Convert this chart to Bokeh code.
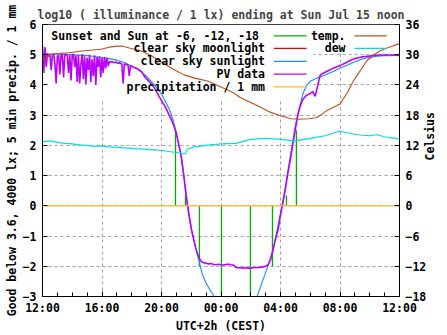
import math
from bokeh.plotting import figure
from bokeh.models import Range1d, LinearAxis, FixedTicker, BoxAnnotation, Label
from bokeh.embed import file_html
from bokeh.resources import INLINE

FONT = "DejaVu Sans Mono"
FS = "11.5px"

# ---------------- data ----------------
TITLE = "log10 ( illuminance / 1 lx) ending at Sun Jul 15 noon"
Y_LABEL = "Good below 3.6, 4000 lx; 5 min precip. / 1 mm"
X_LABEL = "UTC+2h (CEST)"
C_LABEL = "Celsius"

x_ticks = [0, 4, 8, 12, 16, 20, 24]
x_tick_labels = ["12:00", "16:00", "20:00", "00:00", "04:00", "08:00", "12:00"]
x_minor_ticks = list(range(25))
y_ticks = [-3, -2, -1, 0, 1, 2, 3, 4, 5, 6]
c_ticks = [-18, -12, -6, 0, 6, 12, 18, 24, 30, 36]

# PV data, log10 lux (hours after 12:00)
# every 5 minutes from 12:00 to 18:00
pv_fine_step_h = 1.0 / 12.0
pv_fine = [5.30, 4.40, 5.25, 4.60, 5.05, 4.95, 5.00, 4.50, 4.98, 5.02, 4.70, 4.05,
           4.95, 4.98, 4.35, 5.00, 5.02, 4.25, 4.98, 5.03, 4.96, 4.40, 5.00, 4.15,
           4.97, 5.02, 4.60, 4.98, 4.10, 5.00, 4.05, 4.70, 5.02, 4.20, 4.95, 4.02,
           4.90, 4.50, 5.00, 4.10, 4.85, 4.30, 4.98, 4.00, 4.92, 4.60, 4.95, 4.25,
           4.90, 4.40, 4.92, 4.55, 4.90, 4.62, 4.78, 4.76, 4.77, 4.75, 4.74, 4.76,
           4.73, 4.72, 4.74, 4.71, 4.70, 4.05, 4.69, 4.68, 4.67, 4.66, 4.30, 4.64,
           4.62]
# every 10 minutes from 18:10 to 12:00
pv_coarse_start_h = 6.0 + 1.0 / 6.0
pv_coarse_step_h = 1.0 / 6.0
pv_coarse = [4.58, 4.55, 4.50, 4.44, 4.30, 4.20, 4.12, 4.02, 3.92, 3.78, 3.62,
             3.48, 3.35, 3.20, 3.02, 2.85, 2.65, 2.40, 2.00, 1.62, 1.00, 0.30, -0.25,
             -0.75, -1.12, -1.45, -1.70, -1.84, -1.88, -1.90, -1.92, -1.91, -1.94, -1.95, -1.93,
             -1.95, -1.96, -1.94, -1.93, -1.95, -1.96, -2.04, -2.05, -2.05, -2.06, -2.05, -2.06,
             -2.06, -2.05, -2.04, -2.04, -2.03, -2.02, -2.00, -1.95, -1.78, -1.45, -1.10, -0.80,
             -0.30, 0.10, 0.58, 1.10, 1.55, 2.05, 2.55, 3.00, 3.32, 3.52, 3.62, 3.68,
             3.72, 3.78, 3.62, 3.98, 4.32, 4.38, 4.42, 4.46, 4.50, 4.54, 4.58, 4.61,
             4.64, 4.68, 4.72, 4.76, 4.80, 4.84, 4.87, 4.89, 4.91, 4.93, 4.94, 4.95,
             4.96, 4.97, 4.98, 4.98, 4.99, 4.99, 4.99, 4.99, 4.99, 4.98, 4.99, 4.98,
             4.98]
pv_t = ([i * pv_fine_step_h for i in range(len(pv_fine))]
        + [pv_coarse_start_h + i * pv_coarse_step_h for i in range(len(pv_coarse))])
pv = pv_fine + pv_coarse

# clear sky sunlight, log10 lux
sun_t = [0.0, 1.0, 2.0, 3.0, 3.5, 4.0, 4.5, 5.0, 5.5, 6.0, 6.5, 7.0, 7.5, 8.0,
         8.5, 8.75, 9.0, 9.25, 9.5, 9.75, 10.0, 10.25, 10.5, 10.75, 11.0, 11.25,
         11.5, 11.75, 12.0, 12.5, 13.0, 13.5, 14.0, 14.25, 14.5, 14.75, 15.0,
         15.25, 15.5, 15.75, 16.0, 16.25, 16.5, 16.75, 17.0, 17.25, 17.5, 17.75,
         18.0, 18.5, 19.0, 19.5, 20.0, 20.5, 21.0, 21.5, 22.0, 22.5, 23.0, 24.0]
sun_v = [5.02, 5.02, 5.00, 4.97, 4.94, 4.91, 4.87, 4.82, 4.74, 4.63, 4.48, 4.28, 4.02, 3.70,
         3.22, 2.90, 2.40, 1.85, 1.00, 0.00, -0.75, -1.30, -1.78, -2.28, -2.55, -2.78,
         -2.95, -3.15, -3.35, -3.65, -3.85, -3.80, -3.50, -3.20, -2.90, -2.55, -2.20,
         -1.85, -1.45, -0.85, -0.25, 0.40, 1.15, 1.90, 2.65, 3.20, 3.70, 3.98,
         4.12, 4.24, 4.33, 4.44, 4.55, 4.66, 4.77, 4.86, 4.92, 4.95, 4.97, 4.98]

# clear sky moonlight (below the shown range this night)
moon_t = [0.0, 24.0]
moon_v = [-5.0, -5.0]

# sunset / sunrise and sun at -6, -12 markers (hours after noon, top of marker)
mark_t = [8.94, 9.61, 10.55, 12.03, 13.98, 15.46, 16.40, 17.07]
mark_base = [0, 0, 0, 0, 0, 0, 0, 0]
mark_top = [2.5, 0.34, -2.0, -4.0, -4.0, -2.0, 0.34, 2.5]

# precipitation / 1 mm, hourly
precip_t = [0, 1, 2, 3, 4, 5, 6, 7, 8, 9, 10, 11, 12, 13, 14, 15, 16, 17, 18, 19, 20, 21, 22, 23, 24]
precip_v = [0, 0, 0, 0, 0, 0, 0, 0, 0, 0, 0, 0, 0, 0, 0, 0, 0, 0, 0, 0, 0, 0, 0, 0, 0]

# temperature, Celsius
temp_t = [0.0, 0.3, 0.6, 1.2, 1.8, 2.5, 3.2, 3.9, 4.5, 5.0, 5.4, 5.9, 6.6, 7.2, 7.8,
          8.3, 8.8, 9.5, 10.3, 11.1, 12.0, 12.8, 13.3, 14.0, 14.7, 15.3, 16.0, 16.7,
          17.3, 17.9, 18.4, 18.8, 19.1, 19.6, 20.0, 20.5, 20.9, 21.4, 21.8, 22.3,
          22.7, 23.3, 23.9, 24.0]
temp_v = [28.8, 29.6, 30.1, 30.3, 30.4, 30.7, 30.9, 31.1, 31.5, 31.7, 31.7, 31.3, 30.8, 30.0, 28.9,
          28.0, 27.1, 26.0, 25.3, 24.8, 23.6, 22.5, 21.5, 20.5, 19.5, 18.6, 17.9, 17.3,
          17.2, 17.3, 17.5, 18.2, 18.9, 19.6, 20.2, 22.5, 24.8, 27.0, 28.8, 30.0,
          30.8, 31.5, 32.1, 32.2]

# dew point, Celsius
dew_t = [0.0, 0.5, 1.0, 1.5, 2.0, 2.5, 3.0, 3.5, 4.0, 4.5, 5.0, 5.5, 6.0, 6.5, 7.0, 7.5,
         8.0, 8.5, 9.0, 9.6, 9.75, 10.2, 11.0, 12.0, 13.0, 13.5, 14.0, 15.0, 16.0, 17.0,
         18.0, 19.0, 19.5, 20.0, 20.5, 21.0, 21.5, 22.0, 22.5, 23.0, 23.5, 24.0]
dew_v = [12.7, 12.9, 12.6, 12.4, 12.3, 12.1, 12.0, 11.8, 11.9, 11.7, 11.6, 11.5, 11.4, 11.3, 11.2, 11.1,
         11.0, 10.8, 10.6, 10.3, 11.3, 11.7, 12.0, 12.3, 12.4, 12.8, 13.2, 13.4, 13.2, 12.9,
         13.4, 13.9, 14.4, 14.8, 14.5, 14.2, 14.0, 13.9, 14.1, 13.7, 13.5, 13.3]

# ---------------- style ----------------
C_GREEN = "#00b000"
C_RED = "#e00000"
C_BLUE = "#1a8cff"
C_PURPLE = "#bb00ff"
C_ORANGE = "#ffb81c"
C_TEMP = "#c0501a"
C_DEW = "#00dede"

X0, X1, Y0, Y1 = 0, 24, -3, 6
p = figure(width=447, height=335, x_range=Range1d(X0, X1), y_range=Range1d(Y0, Y1),
           output_backend="svg", toolbar_location=None,
           min_border_left=42, min_border_right=48, min_border_top=24, min_border_bottom=39,
           title=TITLE)
p.extra_y_ranges = {"celsius": Range1d(-18, 36)}
p.background_fill_color = "white"
p.border_fill_color = "white"
p.outline_line_color = "black"
p.outline_line_width = 1
p.outline_line_alpha = 1

p.title.text_font = FONT
p.title.text_font_size = FS
p.title.text_font_style = "bold"
p.title.align = "center"
p.title.standoff = 6

xt = FixedTicker(ticks=x_ticks, minor_ticks=x_minor_ticks)
yt = FixedTicker(ticks=y_ticks)
ct = FixedTicker(ticks=c_ticks)

def style_axis(ax):
    ax.axis_line_color = "black"
    ax.major_tick_line_color = "black"
    ax.minor_tick_line_color = "black"
    ax.major_tick_in = 5
    ax.major_tick_out = 0
    ax.minor_tick_in = 4
    ax.minor_tick_out = 0
    ax.major_label_text_font = FONT
    ax.major_label_text_font_size = FS
    ax.major_label_text_font_style = "bold"
    ax.major_label_text_color = "black"
    ax.axis_label_text_font = FONT
    ax.axis_label_text_font_size = FS
    ax.axis_label_text_font_style = "bold"
    ax.axis_label_text_color = "black"
    ax.axis_label_standoff = 1

xa = p.xaxis[0]
xa.ticker = xt
xa.major_label_overrides = {t: s for t, s in zip(x_ticks, x_tick_labels)}
xa.axis_label = X_LABEL
style_axis(xa)
xa.major_label_standoff = 4

ya = p.yaxis[0]
ya.ticker = yt
ya.axis_label = Y_LABEL
style_axis(ya)
ya.major_label_standoff = 6

ra = LinearAxis(y_range_name="celsius", ticker=ct, axis_label=C_LABEL)
style_axis(ra)
ra.major_label_standoff = 6
ra.axis_label_orientation = math.pi / 2
p.add_layout(ra, "right")

for g, tk in ((p.xgrid[0], xt), (p.ygrid[0], yt)):
    g.ticker = tk
    g.grid_line_color = "#a0a0a0"
    g.grid_line_dash = "3 3"
    g.grid_line_width = 1
    g.level = "image"

# pixel -> data helpers for the key layout (fixed ranges, frame 357 x 272 at 42, 24)
PX_X = (X1 - X0) / 357.0
PX_Y = (Y1 - Y0) / 272.0
def tx(px):
    return X0 + (px - 42) * PX_X
def ty(py):
    return Y1 - (py - 24) * PX_Y

text_style = dict(text_font=FONT, text_font_size=FS, text_font_style="bold", text_color="black")

# key backgrounds (hide grid behind the key text)
key1 = BoxAnnotation(left=tx(42), right=tx(313), top=ty(24), bottom=ty(98), fill_color="white",
                     fill_alpha=1, line_color=None, level="underlay")
key2 = BoxAnnotation(left=tx(313), right=tx(399), top=ty(24), bottom=ty(52), fill_color="white",
                     fill_alpha=1, line_color=None, level="underlay")
p.add_layout(key1)
p.add_layout(key2)

# ---------------- series ----------------
p.segment(x0=mark_t, y0=mark_base, x1=mark_t, y1=mark_top, line_color=C_GREEN, line_width=1.3)
p.line(moon_t, moon_v, line_color=C_RED, line_width=1)
p.line(sun_t, sun_v, line_color=C_BLUE, line_width=1.1)
p.line(pv_t, pv, line_color=C_PURPLE, line_width=1.6)
p.line(precip_t, precip_v, line_color=C_ORANGE, line_width=1.3)
p.line(temp_t, temp_v, line_color=C_TEMP, line_width=1.1, y_range_name="celsius")
p.line(dew_t, dew_v, line_color=C_DEW, line_width=1.1, y_range_name="celsius")

# ---------------- key ----------------
key_rows_px = [35.3, 47.9, 60.8, 73.7, 86.4]
key1_text_right_px = [258.5, 264.5, 264.5, 264.5, 264.5]
key1_labels = ["Sunset and Sun at -6, -12, -18", "clear sky moonlight", "clear sky sunlight",
               "PV data", "precipitation / 1 mm"]
key1_colors = [C_GREEN, C_RED, C_BLUE, C_PURPLE, C_ORANGE]
key1_sample_px = (273.3, 306.0)
key2_labels = ["temp.", "dew"]
key2_colors = [C_TEMP, C_DEW]
key2_text_right_px = 345.0
key2_sample_px = (354.0, 386.0)

for i, (lab, col) in enumerate(zip(key1_labels, key1_colors)):
    yy = ty(key_rows_px[i])
    p.add_layout(Label(x=tx(key1_text_right_px[i]), y=yy, text=lab, text_align="right",
                       text_baseline="middle", **text_style))
    p.segment(x0=[tx(key1_sample_px[0])], y0=[yy], x1=[tx(key1_sample_px[1])], y1=[yy],
              line_color=col, line_width=1.2)
for i, (lab, col) in enumerate(zip(key2_labels, key2_colors)):
    yy = ty(key_rows_px[i])
    p.add_layout(Label(x=tx(key2_text_right_px), y=yy, text=lab, text_align="right",
                       text_baseline="middle", **text_style))
    p.segment(x0=[tx(key2_sample_px[0])], y0=[yy], x1=[tx(key2_sample_px[1])], y1=[yy],
              line_color=col, line_width=1.2)

open("out.html", "w").write(file_html(p, INLINE))
